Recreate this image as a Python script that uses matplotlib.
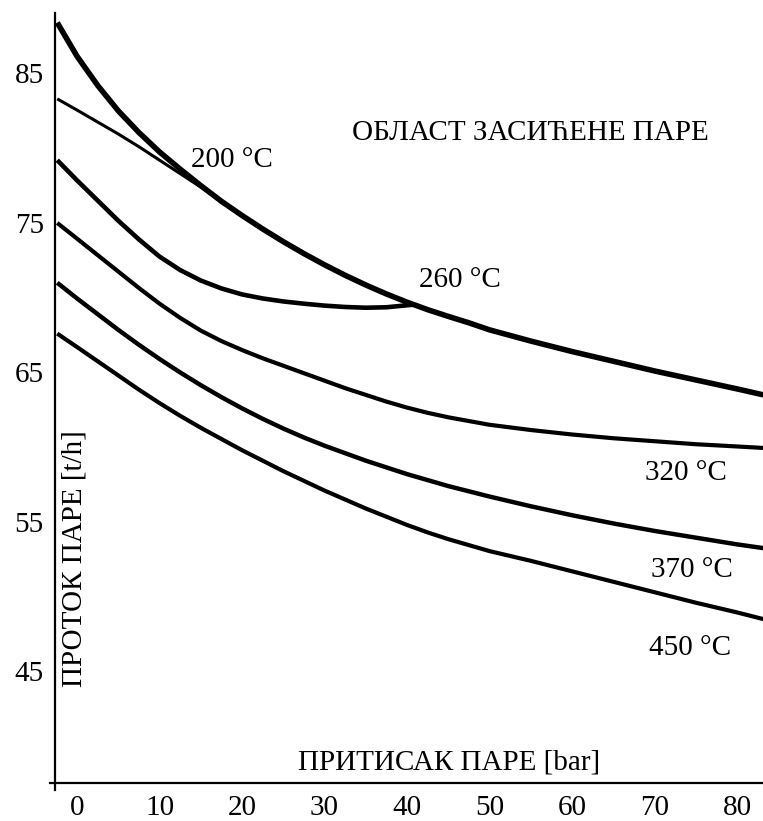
import matplotlib
matplotlib.use("Agg")
import matplotlib.pyplot as plt

plt.rcParams["font.family"] = ["Liberation Serif", "DejaVu Serif"]

# притисак [bar] / проток [t/h]
p_grid = [-2.4, 0, 2.5, 5, 7.5, 10, 12.5, 15, 17.5, 20, 22.5, 25, 27.5, 30, 32.5, 35, 37.5, 40,
          42.5, 45, 47.5, 50, 55, 60, 65, 70, 75, 80, 83.2]

# линија засићене паре
q_sat = [88.4, 86.15, 84.2, 82.5, 81.05, 79.75, 78.6, 77.5, 76.45, 75.5, 74.6, 73.75, 72.95, 72.2,
         71.5, 70.85, 70.25, 69.7, 69.2, 68.75, 68.32, 67.85, 67.1, 66.4, 65.75, 65.1, 64.5, 63.9,
         63.5]

p_200 = [-2.4, 0, 2.5, 5, 7.5, 10, 12.5, 15, 17.5]
q_200 = [83.3, 82.55, 81.75, 80.95, 80.1, 79.2, 78.3, 77.4, 76.45]

p_260 = [-2.4, 0, 2.5, 5, 7.5, 10, 12.5, 15, 17.5, 20, 22.5, 25, 27.5, 30, 32.5, 35, 37.5, 40.7]
q_260 = [79.2, 77.85, 76.5, 75.15, 73.9, 72.75, 71.85, 71.15, 70.62, 70.22, 69.95, 69.75, 69.6,
         69.47, 69.38, 69.33, 69.36, 69.53]

q_320 = [75.0, 73.95, 72.85, 71.75, 70.65, 69.6, 68.65, 67.8, 67.1, 66.5, 65.95, 65.45, 64.95,
         64.45, 63.95, 63.5, 63.05, 62.65, 62.3, 62.0, 61.75, 61.5, 61.15, 60.85, 60.6, 60.4, 60.2,
         60.05, 59.95]
q_370 = [71.0, 69.95, 68.9, 67.85, 66.85, 65.9, 65.0, 64.15, 63.35, 62.6, 61.9, 61.25, 60.65,
         60.1, 59.6, 59.1, 58.65, 58.2, 57.8, 57.4, 57.05, 56.7, 56.05, 55.45, 54.9, 54.4, 53.95,
         53.5, 53.25]
q_450 = [67.6, 66.7, 65.75, 64.8, 63.85, 62.95, 62.1, 61.3, 60.55, 59.8, 59.1, 58.4, 57.75, 57.1,
         56.5, 55.9, 55.35, 54.8, 54.3, 53.85, 53.45, 53.05, 52.4, 51.7, 51.0, 50.3, 49.6, 48.95,
         48.5]

x_ticks = [0, 10, 20, 30, 40, 50, 60, 70, 80]
y_ticks = [45, 55, 65, 75, 85]

fig = plt.figure(figsize=(7.63, 8.21), dpi=100)
ax = fig.add_axes([0.0721, 0.0463, 0.9279, 0.9378])

line_kw = dict(color="black", solid_capstyle="butt", solid_joinstyle="round")
ax.plot(p_grid, q_sat, lw=4.0, **line_kw)
ax.plot(p_200, q_200, lw=2.2, **line_kw)
ax.plot(p_260, q_260, lw=3.3, **line_kw)
ax.plot(p_grid, q_320, lw=3.0, **line_kw)
ax.plot(p_grid, q_370, lw=3.2, **line_kw)
ax.plot(p_grid, q_450, lw=3.0, **line_kw)

ax.set_xlim(-2.67, 83.15)
ax.set_ylim(37.54, 89.04)
ax.set_xticks(x_ticks)
ax.set_yticks(y_ticks)
ax.tick_params(length=0, labelsize=21)
ax.tick_params(axis="x", pad=9)
ax.tick_params(axis="y", pad=8)

for side in ("top", "right"):
    ax.spines[side].set_visible(False)
for side in ("left", "bottom"):
    ax.spines[side].set_linewidth(1.6)
ax.spines["bottom"].set_bounds(-3.27, 83.15)
ax.spines["left"].set_bounds(37.07, 89.04)

fs = 21
ax.text(18.8, 79.2, "200 °C", fontsize=fs, ha="center", va="center")
ax.text(46.4, 71.2, "260 °C", fontsize=fs, ha="center", va="center")
ax.text(73.8, 58.3, "320 °C", fontsize=fs, ha="center", va="center")
ax.text(74.5, 51.8, "370 °C", fontsize=fs, ha="center", va="center")
ax.text(74.3, 46.6, "450 °C", fontsize=fs, ha="center", va="center")
ax.text(0.671, 0.844, "ОБЛАСТ ЗАСИЋЕНЕ ПАРЕ", fontsize=fs, ha="center", va="center",
        transform=ax.transAxes)
ax.text(0.556, 0.026, "ПРИТИСАК ПАРЕ [bar]", fontsize=fs, ha="center", va="center",
        transform=ax.transAxes)
ax.text(0.028, 0.292, "ПРОТОК ПАРЕ [t/h]", fontsize=fs, ha="center", va="center",
        rotation=90, transform=ax.transAxes)

fig.savefig("out.png", dpi=100)
